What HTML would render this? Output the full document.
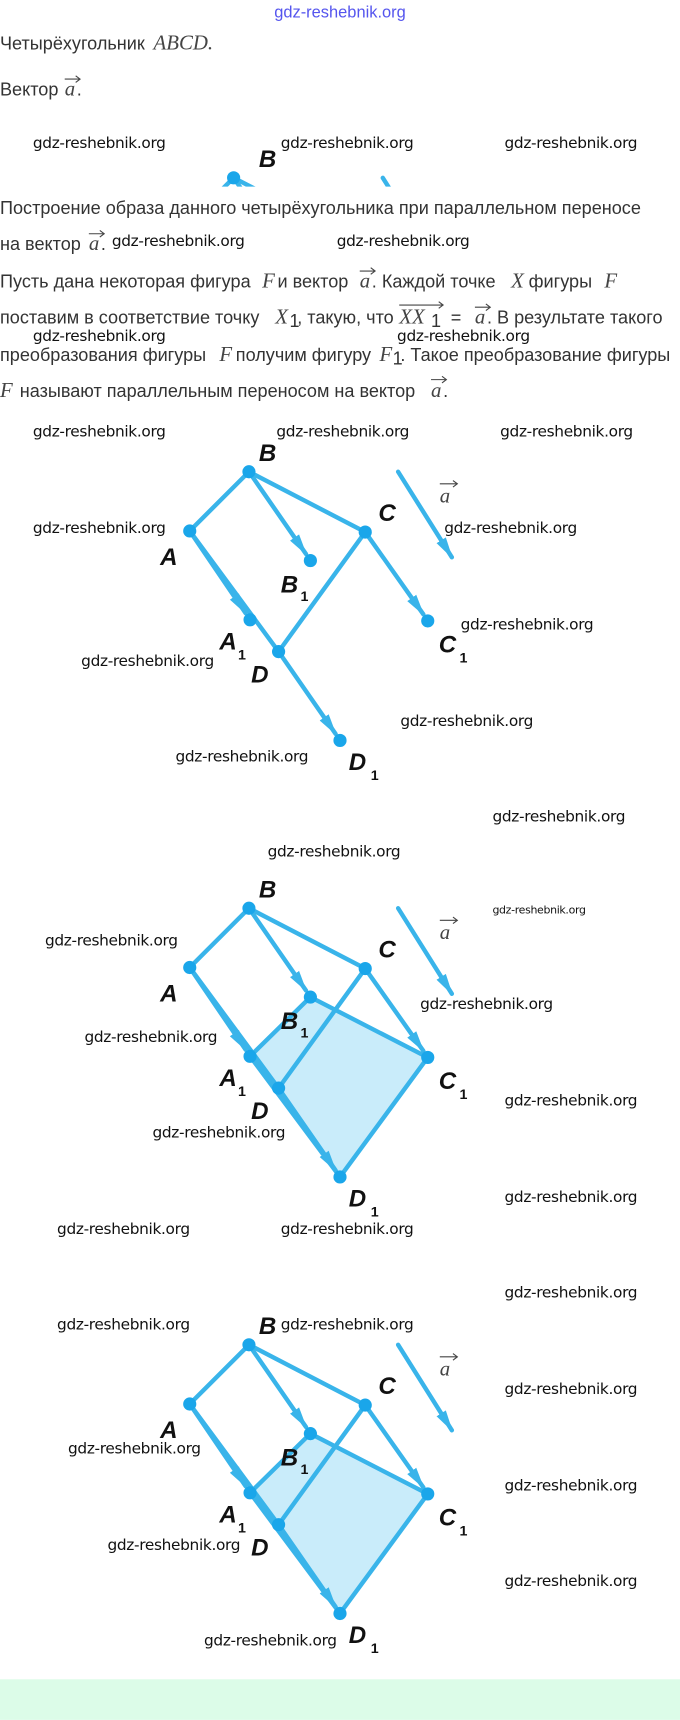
<!DOCTYPE html>
<html><head><meta charset="utf-8"><style>
html,body{margin:0;padding:0;background:#fff;width:680px;height:1720px;overflow:hidden}
svg{display:block}
.t{font-family:"Liberation Sans",sans-serif;font-size:16.5px;fill:#333}
.m{font-family:"Liberation Serif",serif;font-style:italic;font-size:19px;fill:#444}
.w{font-family:"DejaVu Sans","Liberation Sans",sans-serif;font-size:14px;fill:#111;letter-spacing:-0.3px}
.L{font-family:"Liberation Sans",sans-serif;font-weight:bold;font-style:italic;font-size:22px;fill:#111}
.s{font-family:"Liberation Sans",sans-serif;font-weight:bold;font-size:13px;fill:#111}
.v{stroke:#444;stroke-width:1;fill:none}
</style></head><body>
<svg width="680" height="1720" viewBox="0 0 620 1568" xmlns="http://www.w3.org/2000/svg">
<defs>
<marker id="ar" viewBox="0 0 12 8" refX="11" refY="4" markerWidth="5" markerHeight="3.5" orient="auto" markerUnits="strokeWidth">
<path d="M0,1 L12,4 L0,7 Z" fill="#39b4ea"/></marker>
<g id="base" stroke="#39b4ea" stroke-width="4" fill="none" stroke-linecap="round">
<polyline points="227,430 173,484 254,594 333,485 227,430"/>
<line x1="227" y1="430" x2="279" y2="505" marker-end="url(#ar)"/>
<line x1="173" y1="484" x2="224" y2="559" marker-end="url(#ar)"/>
<line x1="333" y1="485" x2="386" y2="560" marker-end="url(#ar)"/>
<line x1="254" y1="594" x2="306" y2="669" marker-end="url(#ar)"/>
<line x1="363" y1="430" x2="412" y2="508" marker-end="url(#ar)"/>
</g>
<g id="dots" fill="#1aa6ea">
<circle cx="227" cy="430" r="6"/><circle cx="173" cy="484" r="6"/><circle cx="333" cy="485" r="6"/><circle cx="254" cy="594" r="6"/>
<circle cx="283" cy="511" r="6"/><circle cx="228" cy="565" r="6"/><circle cx="390" cy="566" r="6"/><circle cx="310" cy="675" r="6"/>
</g>
<g id="labels">
<text class="L" x="236" y="420">B</text><text class="L" x="146" y="515">A</text><text class="L" x="345" y="475">C</text>
<text class="L" x="229" y="622">D</text>
<text class="L" x="256" y="540">B</text><text class="s" x="274" y="548">1</text>
<text class="L" x="200" y="592">A</text><text class="s" x="217" y="601">1</text>
<text class="L" x="400" y="595">C</text><text class="s" x="419" y="604">1</text>
<text class="L" x="318" y="702">D</text><text class="s" x="338" y="711">1</text>
<text class="m" x="401" y="458">a</text><path d="M401,441 h16 m-4,-3 l4,3 l-4,3" class="v"/>
</g>
<clipPath id="cp"><rect x="0" y="0" width="620" height="170"/></clipPath>
</defs>

<text x="310" y="16" text-anchor="middle" style="font-family:'Liberation Sans',sans-serif;font-size:15px;fill:#5555ee">gdz-reshebnik.org</text>

<text class="t" x="0" y="45">Четырёхугольник</text><text class="m" x="140" y="45">ABCD.</text>
<text class="t" x="0" y="87">Вектор</text><text class="m" x="59" y="87">a</text><text class="t" x="70" y="87">.</text>
<path d="M59,72 h14 m-4,-3 l4,3 l-4,3" class="v"/>

<g clip-path="url(#cp)">
<g transform="translate(-14,-268)">
<use href="#base"/><use href="#dots"/>
</g>
<text class="L" x="236" y="152">B</text>
</g>

<text class="t" x="0" y="195">Построение образа данного четырёхугольника при параллельном переносе</text>
<text class="t" x="0" y="228">на вектор</text><text class="m" x="81" y="228">a</text><text class="t" x="92" y="228">.</text>
<path d="M81,213 h14 m-4,-3 l4,3 l-4,3" class="v"/>

<text class="t" x="0" y="262">Пусть дана некоторая фигура</text><text class="m" x="239" y="262">F</text>
<text class="t" x="253" y="262">и вектор</text><text class="m" x="328" y="262">a</text>
<text class="t" x="339" y="262">. Каждой точке</text><text class="m" x="466" y="262">X</text>
<text class="t" x="482" y="262">фигуры</text><text class="m" x="551" y="262">F</text>
<path d="M328,247 h14 m-4,-3 l4,3 l-4,3" class="v"/>

<text class="t" x="0" y="295">поставим в соответствие точку</text><text class="m" x="251" y="295">X</text><text class="t" x="264" y="298" font-size="11">1</text>
<text class="t" x="271" y="295">, такую, что</text><text class="m" x="364" y="295">XX</text><text class="t" x="393" y="298" font-size="11">1</text>
<text class="t" x="411" y="295">=</text><text class="m" x="433" y="295">a</text><text class="t" x="444" y="295">. В результате такого</text>
<path d="M364,278 h40 m-4,-3 l4,3 l-4,3 M433,280 h14 m-4,-3 l4,3 l-4,3" class="v"/>

<text class="t" x="0" y="329">преобразования фигуры</text><text class="m" x="200" y="329">F</text>
<text class="t" x="215" y="329">получим фигуру</text><text class="m" x="346" y="329">F</text><text class="t" x="358" y="332" font-size="11">1</text>
<text class="t" x="365" y="329">. Такое преобразование фигуры</text>

<text class="m" x="0" y="362">F</text><text class="t" x="18" y="362">называют параллельным переносом на вектор</text>
<text class="m" x="393" y="362">a</text><text class="t" x="404" y="362">.</text>
<path d="M393,346 h14 m-4,-3 l4,3 l-4,3" class="v"/>

<use href="#base"/><use href="#dots"/><use href="#labels"/>

<g transform="translate(0,398)">
<polygon points="228,565 283,511 390,566 310,675" fill="#c9ecfa"/>
<use href="#base"/>
<polyline points="228,565 283,511 390,566 310,675 228,565" stroke="#39b4ea" stroke-width="4" fill="none" stroke-linejoin="round"/>
<use href="#dots"/><use href="#labels"/>
</g>

<g transform="translate(0,796)">
<polygon points="228,565 283,511 390,566 310,675" fill="#c9ecfa"/>
<use href="#base"/>
<polyline points="228,565 283,511 390,566 310,675 228,565" stroke="#39b4ea" stroke-width="4" fill="none" stroke-linejoin="round"/>
<use href="#dots"/><use href="#labels"/>
</g>

<g class="w">
<text x="30" y="135">gdz-reshebnik.org</text><text x="256" y="135">gdz-reshebnik.org</text><text x="460" y="135">gdz-reshebnik.org</text>
<text x="102" y="224">gdz-reshebnik.org</text><text x="307" y="224">gdz-reshebnik.org</text>
<text x="30" y="311">gdz-reshebnik.org</text><text x="362" y="311">gdz-reshebnik.org</text>
<text x="30" y="398">gdz-reshebnik.org</text><text x="252" y="398">gdz-reshebnik.org</text><text x="456" y="398">gdz-reshebnik.org</text>
<text x="30" y="486">gdz-reshebnik.org</text><text x="405" y="486">gdz-reshebnik.org</text>
<text x="420" y="574">gdz-reshebnik.org</text><text x="74" y="607">gdz-reshebnik.org</text>
<text x="365" y="662">gdz-reshebnik.org</text><text x="160" y="694">gdz-reshebnik.org</text>
<text x="449" y="749">gdz-reshebnik.org</text><text x="244" y="781">gdz-reshebnik.org</text>
<text x="449" y="833" style="font-size:10px">gdz-reshebnik.org</text>
<text x="41" y="862">gdz-reshebnik.org</text><text x="383" y="920">gdz-reshebnik.org</text>
<text x="77" y="950">gdz-reshebnik.org</text><text x="460" y="1008">gdz-reshebnik.org</text>
<text x="139" y="1037">gdz-reshebnik.org</text><text x="460" y="1096">gdz-reshebnik.org</text>
<text x="52" y="1125">gdz-reshebnik.org</text><text x="256" y="1125">gdz-reshebnik.org</text>
<text x="460" y="1183">gdz-reshebnik.org</text>
<text x="52" y="1212">gdz-reshebnik.org</text><text x="256" y="1212">gdz-reshebnik.org</text>
<text x="460" y="1271">gdz-reshebnik.org</text><text x="62" y="1325">gdz-reshebnik.org</text>
<text x="460" y="1359">gdz-reshebnik.org</text><text x="98" y="1413">gdz-reshebnik.org</text>
<text x="460" y="1446">gdz-reshebnik.org</text><text x="186" y="1500">gdz-reshebnik.org</text>
</g>

<rect x="0" y="1531" width="620" height="37" fill="#dcfce8"/>
</svg>
</body></html>
